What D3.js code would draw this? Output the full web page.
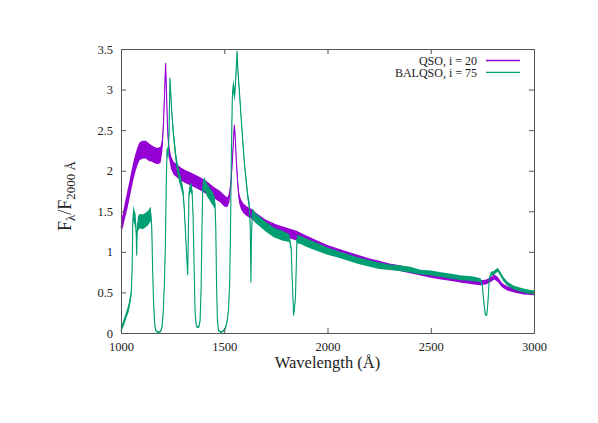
<!DOCTYPE html>
<html>
<head>
<meta charset="utf-8">
<script src="https://cdn.jsdelivr.net/npm/d3@7"></script>
<style>
  body { margin: 0; background: #fff; }
  svg text { font-family: "Liberation Serif", "DejaVu Serif", serif; fill: #222; }
</style>
</head>
<body>
<svg id="chart" width="598" height="423"></svg>
<script>
// spectra: [wavelength (A), flux, half width of the noise band]
var qsoSpec = [
  [1000,1.30,0.07],[1010,1.40,0.09],[1020,1.52,0.10],[1030,1.63,0.11],[1040,1.75,0.11],
  [1050,1.88,0.11],[1060,2.00,0.11],[1070,2.10,0.11],[1080,2.18,0.11],[1090,2.24,0.11],
  [1105,2.26,0.11],[1120,2.26,0.11],[1135,2.23,0.11],[1150,2.21,0.10],[1165,2.19,0.10],
  [1180,2.18,0.10],[1192,2.20,0.10],[1200,2.32,0.08],[1206,2.60,0.06],[1211,2.95,0.05],
  [1216,3.32,0.03],[1220,3.00,0.05],[1225,2.55,0.06],[1232,2.25,0.08],[1242,2.10,0.08],
  [1255,2.03,0.08],[1270,2.00,0.08],[1290,1.96,0.08],[1310,1.93,0.08],[1335,1.90,0.08],
  [1360,1.87,0.08],[1390,1.83,0.08],[1420,1.78,0.08],[1450,1.73,0.07],[1480,1.68,0.07],
  [1500,1.63,0.07],[1515,1.61,0.06],[1525,1.67,0.06],[1533,1.88,0.05],[1540,2.15,0.05],
  [1546,2.45,0.04],[1549,2.56,0.03],[1553,2.42,0.04],[1558,2.15,0.05],[1565,1.85,0.06],
  [1572,1.66,0.06],[1582,1.58,0.06],[1595,1.53,0.06],[1610,1.50,0.06],[1630,1.47,0.06],
  [1660,1.41,0.06],[1700,1.34,0.06],[1750,1.28,0.06],[1800,1.24,0.06],[1850,1.20,0.06],
  [1900,1.15,0.05],[1950,1.09,0.05],[2000,1.04,0.045],[2050,1.00,0.04],[2100,0.96,0.04],
  [2150,0.92,0.04],[2200,0.88,0.04],[2250,0.85,0.04],[2300,0.82,0.035],[2350,0.80,0.035],
  [2400,0.77,0.035],[2450,0.74,0.03],[2500,0.71,0.03],[2550,0.69,0.03],[2600,0.67,0.03],
  [2650,0.65,0.03],[2700,0.63,0.03],[2740,0.62,0.03],[2770,0.63,0.03],[2790,0.66,0.03],
  [2808,0.69,0.03],[2825,0.66,0.03],[2845,0.59,0.025],[2870,0.55,0.025],[2910,0.52,0.025],
  [2950,0.50,0.025],[3000,0.49,0.025]
];

var balSpec = [
  [1000,0.02,0.02],[1006,0.08,0.03],[1012,0.12,0.04],[1020,0.18,0.04],[1028,0.24,0.04],
  [1036,0.30,0.05],[1044,0.40,0.05],[1050,0.50,0.05],[1054,0.80,0.05],[1057,1.35,0.07],
  [1060,1.48,0.09],[1066,1.42,0.09],[1071,1.37,0.09],[1074,1.20,0.06],[1076,0.96,0.03],
  [1078,1.25,0.06],[1082,1.35,0.09],[1092,1.38,0.09],[1105,1.37,0.09],[1118,1.39,0.09],
  [1132,1.42,0.09],[1144,1.47,0.09],[1149,1.30,0.06],[1153,0.80,0.04],[1158,0.35,0.03],
  [1163,0.12,0.02],[1168,0.03,0.01],[1180,0.01,0.01],[1192,0.02,0.01],[1199,0.08,0.02],
  [1205,0.28,0.03],[1210,0.60,0.04],[1215,1.10,0.05],[1219,1.80,0.06],[1223,2.27,0.05],
  [1228,2.18,0.05],[1232,2.40,0.05],[1237,3.14,0.03],[1241,2.95,0.05],[1247,2.68,0.06],
  [1254,2.45,0.07],[1262,2.25,0.07],[1270,2.08,0.07],[1280,1.95,0.07],[1290,1.85,0.07],
  [1300,1.75,0.06],[1306,1.55,0.05],[1312,1.25,0.03],[1318,0.95,0.02],[1323,0.72,0.02],
  [1326,1.20,0.03],[1329,1.72,0.05],[1336,1.80,0.06],[1344,1.76,0.06],[1349,1.45,0.04],
  [1354,0.80,0.03],[1359,0.25,0.02],[1365,0.08,0.01],[1376,0.07,0.01],[1383,0.15,0.02],
  [1388,0.55,0.03],[1392,1.30,0.04],[1396,1.80,0.07],[1404,1.84,0.08],[1415,1.77,0.08],
  [1430,1.71,0.08],[1445,1.65,0.08],[1455,1.60,0.07],[1459,1.30,0.04],[1463,0.55,0.03],
  [1467,0.15,0.02],[1472,0.03,0.01],[1485,0.01,0.01],[1497,0.03,0.01],[1507,0.07,0.02],
  [1515,0.16,0.02],[1521,0.30,0.03],[1526,0.60,0.03],[1530,1.20,0.04],[1534,2.10,0.05],
  [1539,2.90,0.07],[1544,3.05,0.08],[1550,2.92,0.08],[1556,3.15,0.06],[1562,3.47,0.03],
  [1567,3.20,0.05],[1574,2.95,0.05],[1582,2.65,0.05],[1590,2.35,0.05],[1598,2.08,0.05],
  [1606,1.88,0.05],[1614,1.68,0.05],[1622,1.56,0.06],[1626,1.30,0.04],[1629,0.63,0.02],
  [1632,1.20,0.04],[1636,1.48,0.06],[1650,1.42,0.06],[1670,1.38,0.06],[1700,1.31,0.06],
  [1740,1.24,0.06],[1780,1.20,0.06],[1815,1.17,0.05],[1824,1.05,0.03],[1830,0.60,0.02],
  [1836,0.22,0.01],[1840,0.30,0.02],[1845,0.45,0.02],[1848,0.75,0.03],[1852,1.16,0.05],
  [1875,1.14,0.05],[1900,1.11,0.05],[1950,1.06,0.05],[2000,1.01,0.045],[2050,0.97,0.04],
  [2100,0.93,0.04],[2150,0.89,0.04],[2200,0.86,0.04],[2250,0.83,0.04],[2300,0.81,0.035],
  [2350,0.80,0.035],[2400,0.78,0.035],[2450,0.75,0.03],[2500,0.74,0.03],[2550,0.72,0.03],
  [2600,0.70,0.03],[2650,0.68,0.03],[2700,0.67,0.03],[2742,0.65,0.025],[2750,0.58,0.02],
  [2757,0.38,0.015],[2764,0.23,0.01],[2771,0.22,0.01],[2777,0.38,0.015],[2784,0.68,0.02],
  [2792,0.73,0.025],[2805,0.74,0.025],[2815,0.76,0.025],[2824,0.78,0.025],[2835,0.74,0.025],
  [2850,0.67,0.025],[2870,0.61,0.025],[2900,0.56,0.025],[2940,0.53,0.025],[2970,0.51,0.025],
  [3000,0.50,0.025]
];

var seriesNames = ["QSO, i = 20", "BALQSO, i = 75"];
var seriesColors = ["#9400d3", "#009e73"];
var xTicks = [1000, 1500, 2000, 2500, 3000];
var yTicks = [0, 0.5, 1, 1.5, 2, 2.5, 3, 3.5];

var svg = d3.select("#chart");

// plot box (window.top is reserved, so no "top" variable here)
var plotLeft = 121, plotRight = 534, plotTop = 49, plotBottom = 333;

var x = d3.scaleLinear().domain([1000, 3000]).range([plotLeft, plotRight]);
var y = d3.scaleLinear().domain([0, 3.5]).range([plotBottom, plotTop]);

// noise band + line for each spectrum
var band = d3.area()
    .x(function (d) { return x(d[0]); })
    .y0(function (d) { return y(Math.max(0, d[1] - d[2])); })
    .y1(function (d) { return y(d[1] + d[2]); });

var line = d3.line()
    .x(function (d) { return x(d[0]); })
    .y(function (d) { return y(d[1]); });

var plot = svg.append("g");

[qsoSpec, balSpec].forEach(function (spec, i) {
    plot.append("path")
        .attr("d", band(spec))
        .attr("fill", seriesColors[i]);
    plot.append("path")
        .attr("d", line(spec))
        .attr("fill", "none")
        .attr("stroke", seriesColors[i])
        .attr("stroke-width", 1.1)
        .attr("stroke-linejoin", "round");
});

// axes, ticks point inwards and are mirrored
function styleAxis(g) {
    g.selectAll("path").attr("stroke", "#555");
    g.selectAll("line").attr("stroke", "#555");
    g.selectAll("text")
        .attr("font-size", 12.5)
        .attr("fill", "#222")
        .style("font-family", "'Liberation Serif', serif");
}

svg.append("g")
    .attr("transform", "translate(0," + plotBottom + ")")
    .call(d3.axisBottom(x).tickValues(xTicks).tickSize(-5).tickPadding(9).tickFormat(d3.format("d")))
    .call(styleAxis);

svg.append("g")
    .attr("transform", "translate(0," + plotTop + ")")
    .call(d3.axisTop(x).tickValues(xTicks).tickSize(-5).tickFormat(""))
    .call(styleAxis);

svg.append("g")
    .attr("transform", "translate(" + plotLeft + ",0)")
    .call(d3.axisLeft(y).tickValues(yTicks).tickSize(-5).tickPadding(8).tickFormat(function (d) { return d; }))
    .call(styleAxis);

svg.append("g")
    .attr("transform", "translate(" + plotRight + ",0)")
    .call(d3.axisRight(y).tickValues(yTicks).tickSize(-5).tickFormat(""))
    .call(styleAxis);

// axis titles
svg.append("text")
    .attr("x", (plotLeft + plotRight) / 2)
    .attr("y", 368)
    .attr("text-anchor", "middle")
    .attr("font-size", 16.5)
    .text("Wavelength (Å)");

var yTitle = svg.append("text")
    .attr("transform", "translate(71,196) rotate(-90)")
    .attr("text-anchor", "middle")
    .attr("font-size", 18);
yTitle.append("tspan").text("F");
yTitle.append("tspan").attr("dy", 4).attr("font-size", 13).text("λ");
yTitle.append("tspan").attr("dy", -4).text("/F");
yTitle.append("tspan").attr("dy", 4).attr("font-size", 13).text("2000 Å");

// legend
var legend = svg.append("g");
seriesNames.forEach(function (name, i) {
    var ly = 60.5 + i * 11.8;
    legend.append("text")
        .attr("x", 477)
        .attr("y", ly + 4.2)
        .attr("text-anchor", "end")
        .attr("font-size", 12)
        .text(name);
    legend.append("line")
        .attr("x1", 486).attr("x2", 520)
        .attr("y1", ly).attr("y2", ly)
        .attr("stroke", seriesColors[i])
        .attr("stroke-width", 1.3);
});
</script>
</body>
</html>
